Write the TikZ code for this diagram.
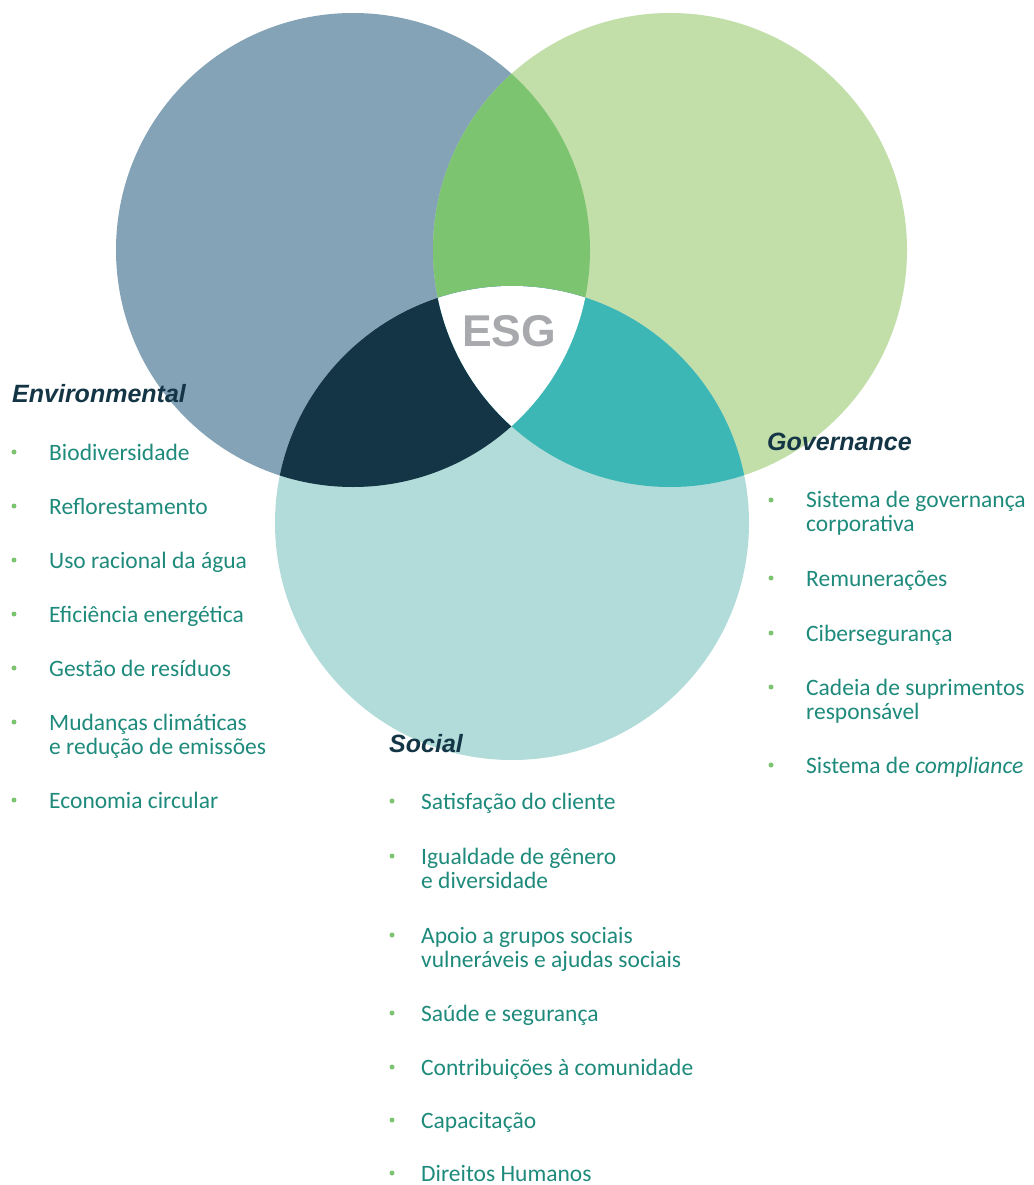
\documentclass[tikz,border=0pt]{standalone}
\usepackage{fontspec}
\setmainfont{Carlito}
\newfontfamily\arialfont{Liberation Sans}

\definecolor{envblue}{HTML}{84A3B7}
\definecolor{govgreen}{HTML}{C2DEA9}
\definecolor{socteal}{HTML}{B2DCDA}
\definecolor{envgov}{HTML}{7DC470}
\definecolor{envsoc}{HTML}{143545}
\definecolor{govsoc}{HTML}{3DB7B5}
\definecolor{esggray}{HTML}{A7A9AC}
\definecolor{itemtext}{HTML}{1E8A7B}
\definecolor{bulletgreen}{HTML}{7DC470}

\tikzset{
  venn/.style={radius=237pt},
  esglabel/.style={inner sep=0pt, font=\arialfont\bfseries\fontsize{44.5}{50}\selectfont, text=esggray},
  heading/.style={anchor=base west, inner sep=0pt, font=\arialfont\bfseries\itshape\fontsize{25}{30}\selectfont, text=envsoc},
  entry/.style={anchor=base west, inner sep=0pt, align=left, font=\fontsize{23.5}{24.5}\selectfont, text=itemtext},
  bulletdot/.style={circle, fill=bulletgreen, inner sep=0pt, minimum size=5pt}
}

\begin{document}
\begin{tikzpicture}[x=1pt,y=-1pt]
      \useasboundingbox (0,0) rectangle (1033,1185);
      \coordinate (env) at (353,250);
      \coordinate (gov) at (670,250);
      \coordinate (soc) at (512,523);
      % the three circles
      \fill[envblue] (env) circle[venn];
      \fill[govgreen] (gov) circle[venn];
      \fill[socteal] (soc) circle[venn];
      % overlaps
      \begin{scope}
        \clip (env) circle[venn];
        \fill[envgov] (gov) circle[venn];
        \fill[envsoc] (soc) circle[venn];
      \end{scope}
      \begin{scope}
        \clip (gov) circle[venn];
        \fill[govsoc] (soc) circle[venn];
      \end{scope}
      \begin{scope}
        \clip (env) circle[venn];
        \clip (gov) circle[venn];
        \fill[white] (soc) circle[venn];
      \end{scope}
      \node[esglabel] (esg) at (509,331) {ESG};

      % Environmental (two-line entries sit on their last baseline)
      \node[heading] (envhead) at (12,402) {Environmental};
      \node[bulletdot] (envb1) at (14,452) {};
      \node[entry] (env1) at (49,460) {Biodiversidade};
      \node[bulletdot] (envb2) at (14,506) {};
      \node[entry] (env2) at (49,514) {Reflorestamento};
      \node[bulletdot] (envb3) at (14,560) {};
      \node[entry] (env3) at (49,568) {Uso racional da água};
      \node[bulletdot] (envb4) at (14,614) {};
      \node[entry] (env4) at (49,622) {Eficiência energética};
      \node[bulletdot] (envb5) at (14,668) {};
      \node[entry] (env5) at (49,676) {Gestão de resíduos};
      \node[bulletdot] (envb6) at (14,722) {};
      \node[entry] (env6) at (49,754.5) {Mudanças climáticas\\e redução de emissões};
      \node[bulletdot] (envb7) at (14,800) {};
      \node[entry] (env7) at (49,808) {Economia circular};

      % Social
      \node[heading] (sochead) at (389,752) {Social};
      \node[bulletdot] (socb1) at (392,801) {};
      \node[entry] (soc1) at (421,809) {Satisfação do cliente};
      \node[bulletdot] (socb2) at (392,856) {};
      \node[entry] (soc2) at (421,888.5) {Igualdade de gênero\\e diversidade};
      \node[bulletdot] (socb3) at (392,935) {};
      \node[entry] (soc3) at (421,967.5) {Apoio a grupos sociais\\vulneráveis e ajudas sociais};
      \node[bulletdot] (socb4) at (392,1013) {};
      \node[entry] (soc4) at (421,1021) {Saúde e segurança};
      \node[bulletdot] (socb5) at (392,1067) {};
      \node[entry] (soc5) at (421,1075) {Contribuições à comunidade};
      \node[bulletdot] (socb6) at (392,1120) {};
      \node[entry] (soc6) at (421,1128) {Capacitação};
      \node[bulletdot] (socb7) at (392,1173) {};
      \node[entry] (soc7) at (421,1181) {Direitos Humanos};

      % Governance
      \node[heading] (govhead) at (767,450) {Governance};
      \node[bulletdot] (govb1) at (771,500) {};
      \node[entry] (gov1) at (806,531.5) {Sistema de governança\\corporativa};
      \node[bulletdot] (govb2) at (771,578) {};
      \node[entry] (gov2) at (806,586) {Remunerações};
      \node[bulletdot] (govb3) at (771,633) {};
      \node[entry] (gov3) at (806,641) {Cibersegurança};
      \node[bulletdot] (govb4) at (771,687) {};
      \node[entry] (gov4) at (806,719.5) {Cadeia de suprimentos\\responsável};
      \node[bulletdot] (govb5) at (771,765) {};
      \node[entry] (gov5) at (806,773) {Sistema de \textit{compliance}};
    \end{tikzpicture}
\end{document}
